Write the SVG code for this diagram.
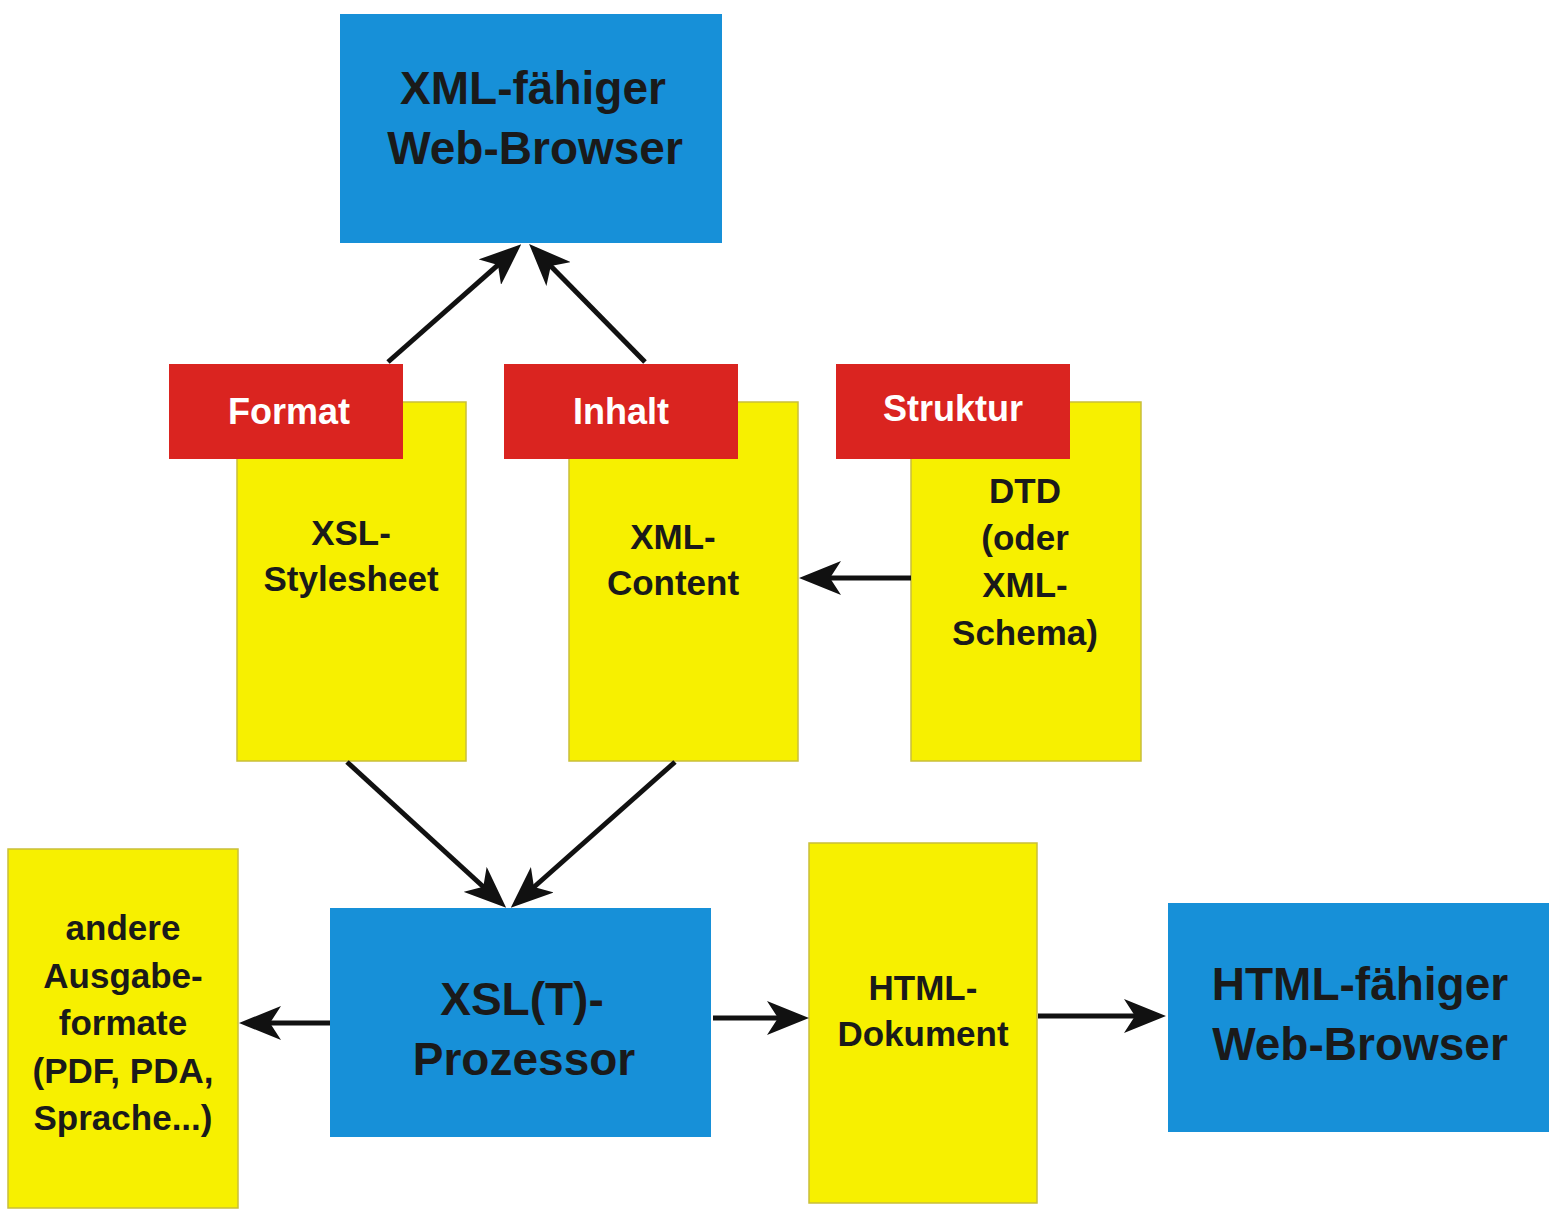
<svg xmlns="http://www.w3.org/2000/svg" width="1550" height="1214" viewBox="0 0 1550 1214">
<style>
.blue{fill:#1790d8;}
.red{fill:#da2420;}
.yel{fill:#f7f000;stroke:#c9bf3a;stroke-width:1.5;}
text{font-family:"Liberation Sans",Arial,sans-serif;font-weight:bold;text-anchor:middle;}
.big{font-size:46px;fill:#1a1a1a;}
.mid{font-size:35px;fill:#1a1a1a;}
.lbl{font-size:36px;fill:#ffffff;}
.con{stroke:#111;stroke-width:5;fill:none;marker-end:url(#ah);}
</style>
<defs>
<marker id="ah" viewBox="0 0 42 34" refX="35" refY="17" markerWidth="42" markerHeight="34" markerUnits="userSpaceOnUse" orient="auto">
<path d="M0,0 L42,17 L0,34 L11,17 Z" fill="#111"/>
</marker>
</defs>
<rect width="1550" height="1214" fill="#ffffff"/>

<g id="xml-browser">
<rect class="blue" x="340" y="14" width="382" height="229"/>
<text class="big" x="533" y="104">XML-fähiger</text>
<text class="big" x="535" y="164">Web-Browser</text>
</g>

<g id="xsl-stylesheet">
<rect class="yel" x="237" y="402" width="229" height="359"/>
<rect class="red" x="169" y="364" width="234" height="95"/>
<text class="lbl" x="289" y="424">Format</text>
<text class="mid" x="351" y="545">XSL-</text>
<text class="mid" x="351" y="591">Stylesheet</text>
</g>

<g id="xml-content">
<rect class="yel" x="569" y="402" width="229" height="359"/>
<rect class="red" x="504" y="364" width="234" height="95"/>
<text class="lbl" x="621" y="424">Inhalt</text>
<text class="mid" x="673" y="549">XML-</text>
<text class="mid" x="673" y="595">Content</text>
</g>

<g id="dtd">
<rect class="yel" x="911" y="402" width="230" height="359"/>
<rect class="red" x="836" y="364" width="234" height="95"/>
<text class="lbl" x="953" y="421">Struktur</text>
<text class="mid" x="1025" y="503">DTD</text>
<text class="mid" x="1025" y="550">(oder</text>
<text class="mid" x="1025" y="597">XML-</text>
<text class="mid" x="1025" y="645">Schema)</text>
</g>

<g id="andere">
<rect class="yel" x="8" y="849" width="230" height="359"/>
<text class="mid" x="123" y="940">andere</text>
<text class="mid" x="123" y="988">Ausgabe-</text>
<text class="mid" x="123" y="1035">formate</text>
<text class="mid" x="123" y="1083">(PDF, PDA,</text>
<text class="mid" x="123" y="1130">Sprache...)</text>
</g>

<g id="prozessor">
<rect class="blue" x="330" y="908" width="381" height="229"/>
<text class="big" x="522" y="1015">XSL(T)-</text>
<text class="big" x="524" y="1075">Prozessor</text>
</g>

<g id="html-dokument">
<rect class="yel" x="809" y="843" width="228" height="360"/>
<text class="mid" x="923" y="1000">HTML-</text>
<text class="mid" x="923" y="1046">Dokument</text>
</g>

<g id="html-browser">
<rect class="blue" x="1168" y="903" width="381" height="229"/>
<text class="big" x="1360" y="1000">HTML-fähiger</text>
<text class="big" x="1360" y="1060">Web-Browser</text>
</g>

<g id="connectors">
<path class="con" d="M388,362 L516,249"/>
<path class="con" d="M645,362 L534,249"/>
<path class="con" d="M347,762 L501,903"/>
<path class="con" d="M675,762 L516,903"/>
<path class="con" d="M911,578 L806,578"/>
<path class="con" d="M330,1023 L246,1023"/>
<path class="con" d="M713,1018 L802,1018"/>
<path class="con" d="M1038,1016 L1159,1016"/>
</g>
</svg>
